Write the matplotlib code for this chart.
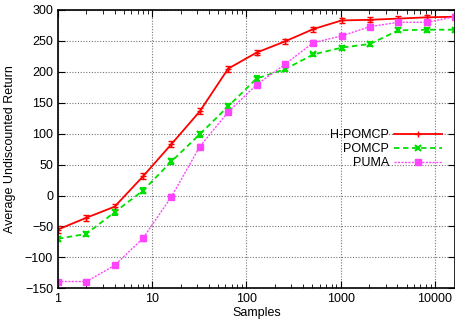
import matplotlib
matplotlib.use("Agg")
import matplotlib.pyplot as plt
from matplotlib.lines import Line2D
import numpy as np

plt.rcParams['font.family'] = ['Liberation Sans', 'DejaVu Sans']

samples = [1, 2, 4, 8, 16, 32, 64, 128, 256, 512, 1024, 2048, 4096, 8192, 16384]

hpomcp = [-55, -36, -18, 31, 83, 136, 205, 231, 249, 269, 283, 284, 286, 288, 289]
hpomcp_err = [5, 5, 5, 5, 5, 5, 5, 4, 4, 4, 4, 4, 4, 4, 4]

pomcp = [-70, -62, -27, 8, 55, 99, 144, 189, 204, 228, 239, 245, 267, 268, 268]
pomcp_err = [3, 3, 4, 4, 4, 4, 4, 4, 3, 3, 3, 3, 3, 3, 3]

puma = [-139, -139, -113, -69, -2, 79, 135, 179, 212, 247, 258, 273, 280, 280, 289]
puma_err = [3, 3, 3, 4, 4, 4, 4, 4, 4, 4, 4, 4, 4, 4, 4]

labels = ['H-POMCP', 'POMCP', 'PUMA']
colors = ['#ff0000', '#00e000', '#ff44ff']

fig = plt.figure(figsize=(4.56, 3.2), dpi=100)
ax = fig.add_axes([0.127, 0.099, 0.871, 0.870])

ax.errorbar(samples, hpomcp, yerr=hpomcp_err, color=colors[0], lw=1.3, ls='-',
            marker='+', ms=5, capsize=2.5, elinewidth=1)
ax.errorbar(samples, pomcp, yerr=pomcp_err, color=colors[1], lw=1.3, ls=(0, (3, 2)),
            marker='x', ms=4, mew=1.5, capsize=2.5, elinewidth=1)
ax.errorbar(samples, puma, yerr=puma_err, color=colors[2], lw=1.0, ls=(0, (1.5, 1)),
            marker='s', ms=4, capsize=2.5, elinewidth=1)

ax.set_xscale('log')
ax.set_xlim(1, 16384)
ax.set_ylim(-150, 300)
ax.set_yticks(np.arange(-150, 301, 50))
ax.set_xticks([1, 10, 100, 1000, 10000])
ax.set_xticklabels(['1', '10', '100', '1000', '10000'])

ax.grid(True, which='major', color='#777777', ls=(0, (1, 1.5)), lw=0.8)
ax.tick_params(which='both', direction='in', top=True, right=True, labelsize=9)
ax.tick_params(which='major', length=5)
ax.tick_params(which='minor', length=3)
for s in ax.spines.values():
    s.set_linewidth(1.2)

ax.set_xlabel('Samples', fontsize=9, labelpad=1)
ax.set_ylabel('Average Undiscounted Return', fontsize=9, labelpad=6)

handles = [
    Line2D([], [], color=colors[0], lw=1.3, ls='-', marker='+', ms=5),
    Line2D([], [], color=colors[1], lw=1.3, ls=(0, (3, 2)), marker='x', ms=4, mew=1.5),
    Line2D([], [], color=colors[2], lw=1.0, ls=(0, (1.5, 1)), marker='s', ms=4),
]
ax.legend(handles, labels, loc='center right', bbox_to_anchor=(0.995, 0.50),
          frameon=False, markerfirst=False, fontsize=9, handlelength=3.8,
          labelspacing=0.15, handletextpad=0.4, numpoints=1)

fig.savefig('out.png', dpi=100)
